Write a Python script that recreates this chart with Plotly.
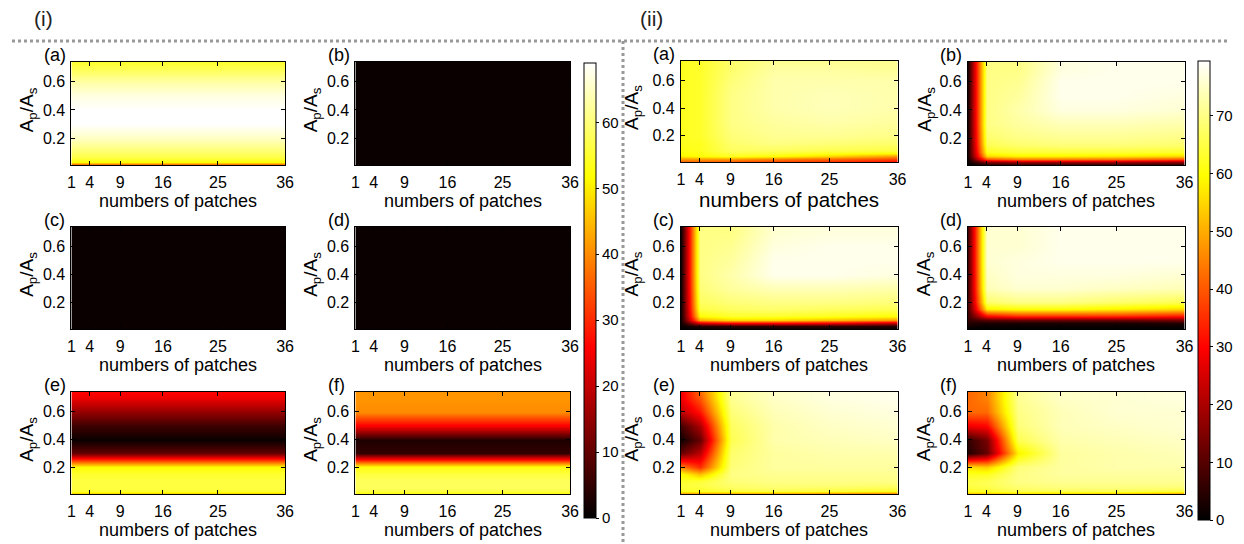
import plotly.graph_objects as go

# ---------------- data ----------------
patches = [1, 4, 9, 16, 25, 36]
ratio = [0.01, 0.03, 0.05, 0.075, 0.1, 0.15, 0.2, 0.3, 0.4, 0.5, 0.6, 0.7, 0.74]
x_ticks = [1, 4, 9, 16, 25, 36]
y_ticks = [0.2, 0.4, 0.6]
cbar_i_ticks = [0, 10, 20, 30, 40, 50, 60]
cbar_ii_ticks = [0, 10, 20, 30, 40, 50, 60, 70]
cbar_i_max = 69
cbar_ii_max = 79.5

# group (i): values depend only on A_p/A_s (one value per ratio level)
i_a = [32, 52, 55, 57, 59, 62, 65, 69, 69, 67, 63, 57, 55]
i_b = [1, 1, 1, 1, 1, 1, 1, 1, 1, 1, 1, 1, 1]
i_c = [1, 1, 1, 1, 1, 1, 1, 1, 1, 1, 1, 1, 1]
i_d = [1, 1, 1, 1, 1, 1, 1, 1, 1, 1, 1, 1, 1]
i_e = [45, 55, 56, 56, 56, 55, 52, 10, 1, 6, 15, 24, 26]
i_f = [52, 56, 58, 58, 58, 56, 53, 5, 3, 25, 40, 41, 41]

# group (ii): rows = ratio levels, columns = patches
ii_a = [
    [40, 40, 38, 36, 34, 30],
    [48, 48, 48, 45, 42, 38],
    [58, 60, 62, 60, 55, 48],
    [60, 61, 65, 64, 62, 60],
    [61, 62, 67, 67, 66, 65],
    [62, 62, 68, 70, 69, 68],
    [62, 63, 69, 71, 71, 70],
    [62, 63, 70, 72, 73, 72],
    [62, 63, 70, 73, 74, 73],
    [62, 63, 70, 73, 74, 73],
    [62, 63, 69, 73, 73, 73],
    [62, 63, 68, 72, 72, 71],
    [62, 63, 68, 71, 71, 71],
]
ii_b = [
    [0, 3, 4, 4, 4, 4],
    [1, 15, 18, 18, 18, 16],
    [2, 40, 45, 45, 44, 40],
    [3, 55, 58, 58, 57, 55],
    [3, 62, 64, 64, 64, 63],
    [3, 66, 68, 69, 69, 68],
    [3, 68, 70, 71, 71, 70],
    [3, 70, 72, 74, 74, 73],
    [3, 70, 73, 77, 77, 76],
    [3, 70, 72, 78, 78, 77],
    [3, 70, 71, 78, 78, 78],
    [3, 70, 70, 77, 78, 78],
    [3, 70, 70, 77, 78, 78],
]
ii_c = [
    [0, 1, 1, 1, 1, 1],
    [1, 4, 5, 5, 5, 4],
    [2, 25, 30, 30, 28, 22],
    [2, 50, 55, 55, 52, 48],
    [2, 60, 63, 63, 62, 60],
    [2, 65, 67, 68, 67, 66],
    [2, 67, 69, 70, 70, 69],
    [2, 69, 72, 74, 74, 73],
    [2, 70, 73, 78, 78, 77],
    [2, 70, 72, 78, 78, 78],
    [2, 70, 71, 77, 78, 78],
    [2, 70, 70, 76, 77, 77],
    [2, 70, 70, 76, 77, 77],
]
ii_d = [
    [0, 0, 0, 0, 0, 0],
    [2, 1, 1, 1, 1, 1],
    [4, 3, 3, 3, 3, 4],
    [6, 10, 12, 12, 12, 14],
    [7, 30, 35, 35, 35, 32],
    [8, 58, 60, 60, 58, 55],
    [8, 68, 70, 70, 68, 66],
    [8, 74, 76, 76, 75, 74],
    [8, 75, 77, 77, 77, 76],
    [8, 76, 77, 78, 78, 78],
    [8, 76, 76, 78, 78, 78],
    [8, 76, 76, 78, 78, 78],
    [8, 76, 76, 78, 78, 78],
]
ii_e = [
    [45, 45, 45, 45, 42, 40],
    [62, 62, 64, 65, 64, 62],
    [64, 64, 67, 68, 67, 66],
    [64, 65, 68, 69, 69, 68],
    [63, 64, 69, 70, 70, 70],
    [60, 52, 70, 71, 71, 71],
    [45, 35, 69, 72, 72, 72],
    [12, 22, 68, 72, 73, 73],
    [2, 12, 66, 73, 74, 75],
    [8, 20, 67, 73, 75, 76],
    [22, 32, 69, 74, 76, 77],
    [28, 40, 71, 75, 77, 78],
    [28, 42, 71, 75, 77, 78],
]
ii_f = [
    [50, 50, 52, 52, 50, 45],
    [62, 63, 66, 66, 66, 64],
    [64, 65, 68, 69, 69, 68],
    [65, 66, 69, 70, 70, 70],
    [65, 66, 70, 71, 71, 71],
    [62, 62, 70, 72, 72, 72],
    [56, 54, 69, 72, 73, 73],
    [4, 12, 58, 72, 73, 74],
    [6, 14, 66, 73, 74, 75],
    [28, 30, 69, 74, 75, 76],
    [42, 42, 70, 74, 76, 76],
    [42, 45, 71, 75, 76, 77],
    [42, 45, 71, 75, 76, 77],
]

letters = ["(a)", "(b)", "(c)", "(d)", "(e)", "(f)"]
group_i = [i_a, i_b, i_c, i_d, i_e, i_f]
group_ii = [ii_a, ii_b, ii_c, ii_d, ii_e, ii_f]

# ---------------- layout helpers ----------------
OFF = 8                      # page body margin
W, H = 1244 - OFF, 544 - OFF
FONT = "Arial, 'Liberation Sans', Helvetica, sans-serif"
hot = [[0.0, "rgb(0,0,0)"], [0.375, "rgb(255,0,0)"],
       [0.75, "rgb(255,255,0)"], [1.0, "rgb(255,255,255)"]]

col_px = [(68, 284), (355, 572), (684, 903), (974, 1193)]
row_px = [(62, 165), (227, 329), (392, 494)]


def px_x(p):
    return (p - OFF) / W


def px_y(p):
    return 1 - (p - OFF) / H


fig = go.Figure()
annotations = []
layout = {}
k = 0
for g, grp in enumerate([group_i, group_ii]):
    for idx, vals in enumerate(grp):
        r, c = divmod(idx, 2)
        k += 1
        xl, xr = col_px[2 * g + c]
        yt, yb = row_px[r]
        if g == 1 and idx == 0:
            yt, yb = 61, 162
        if g == 0:
            z = [[v] * len(patches) for v in vals]
        else:
            z = vals
        xa = "x" if k == 1 else f"x{k}"
        ya = "y" if k == 1 else f"y{k}"
        fig.add_trace(go.Heatmap(
            x=patches, y=ratio, z=z, zsmooth="best",
            coloraxis="coloraxis" if g == 0 else "coloraxis2",
            xaxis=xa, yaxis=ya, hoverinfo="skip"))
        xkey = "xaxis" if k == 1 else f"xaxis{k}"
        ykey = "yaxis" if k == 1 else f"yaxis{k}"
        common = dict(showline=True, linecolor="black", linewidth=1,
                      mirror="ticks", ticks="inside", ticklen=4,
                      tickcolor="black", showgrid=False, zeroline=False,
                      tickfont=dict(family=FONT, size=16, color="black"))
        layout[xkey] = dict(domain=[px_x(xl), px_x(xr)], range=[1, 36],
                            tickvals=x_ticks, anchor=ya,
                            ticklabelstandoff=3, **common)
        layout[ykey] = dict(domain=[px_y(yb), px_y(yt)], range=[0.01, 0.74],
                            tickvals=y_ticks, ticktext=["0.2", "0.4", "0.6"],
                            anchor=xa, ticklabelstandoff=2, **common)
        # panel letter
        annotations.append(dict(
            text=letters[idx], x=px_x(xl - 30), y=px_y(yt - 7),
            xref="paper", yref="paper", xanchor="left", yanchor="middle",
            showarrow=False, font=dict(family=FONT, size=18, color="black")))
        # x title
        big = (g == 1 and idx == 0)
        annotations.append(dict(
            text="numbers of patches", x=px_x((xl + xr) / 2),
            y=px_y(yb + (38 if big else 36)),
            xref="paper", yref="paper", xanchor="center", yanchor="middle",
            showarrow=False,
            font=dict(family=FONT, size=20.5 if big else 18, color="black")))
        # y title
        ycx = [24, 311, 636, 931][2 * g + c]
        annotations.append(dict(
            text="A<sub>p</sub>/A<sub>s</sub>",
            x=px_x(ycx), y=px_y((yt + yb) / 2 - 4), textangle=-90,
            xref="paper", yref="paper", xanchor="center", yanchor="middle",
            showarrow=False, font=dict(family=FONT, size=19, color="black")))

annotations.append(dict(text="(i)", x=px_x(40), y=px_y(18), xref="paper",
                        yref="paper", xanchor="center", yanchor="middle",
                        showarrow=False,
                        font=dict(family=FONT, size=21, color="#222")))
annotations.append(dict(text="(ii)", x=px_x(654), y=px_y(18), xref="paper",
                        yref="paper", xanchor="center", yanchor="middle",
                        showarrow=False,
                        font=dict(family=FONT, size=21, color="#222")))

cb_common = dict(thickness=12, thicknessmode="pixels", lenmode="pixels",
                 xanchor="left", yanchor="top", xpad=0, ypad=0,
                 outlinecolor="black", outlinewidth=1, ticks="outside",
                 ticklen=3, tickcolor="black",
                 tickfont=dict(family=FONT, size=15, color="black"))

fig.update_layout(
    width=W, height=H, margin=dict(l=0, r=0, t=0, b=0),
    paper_bgcolor="white", plot_bgcolor="white", showlegend=False,
    coloraxis=dict(colorscale=hot, cmin=0, cmax=cbar_i_max,
                   colorbar=dict(x=px_x(586), y=px_y(63), len=455,
                                 tickvals=cbar_i_ticks, **cb_common)),
    coloraxis2=dict(colorscale=hot, cmin=0, cmax=cbar_ii_max,
                    colorbar=dict(x=px_x(1207), y=px_y(61), len=459,
                                  tickvals=cbar_ii_ticks, **cb_common)),
    annotations=annotations,
    shapes=[
        dict(type="line", xref="paper", yref="paper", x0=px_x(8), x1=px_x(1236),
             y0=px_y(41), y1=px_y(41),
             line=dict(color="#999", width=3, dash="dot")),
        dict(type="line", xref="paper", yref="paper", x0=px_x(625.5),
             x1=px_x(625.5), y0=px_y(41), y1=0,
             line=dict(color="#999", width=3, dash="dot")),
    ],
    **layout,
)

fig.write_html("out.html")
